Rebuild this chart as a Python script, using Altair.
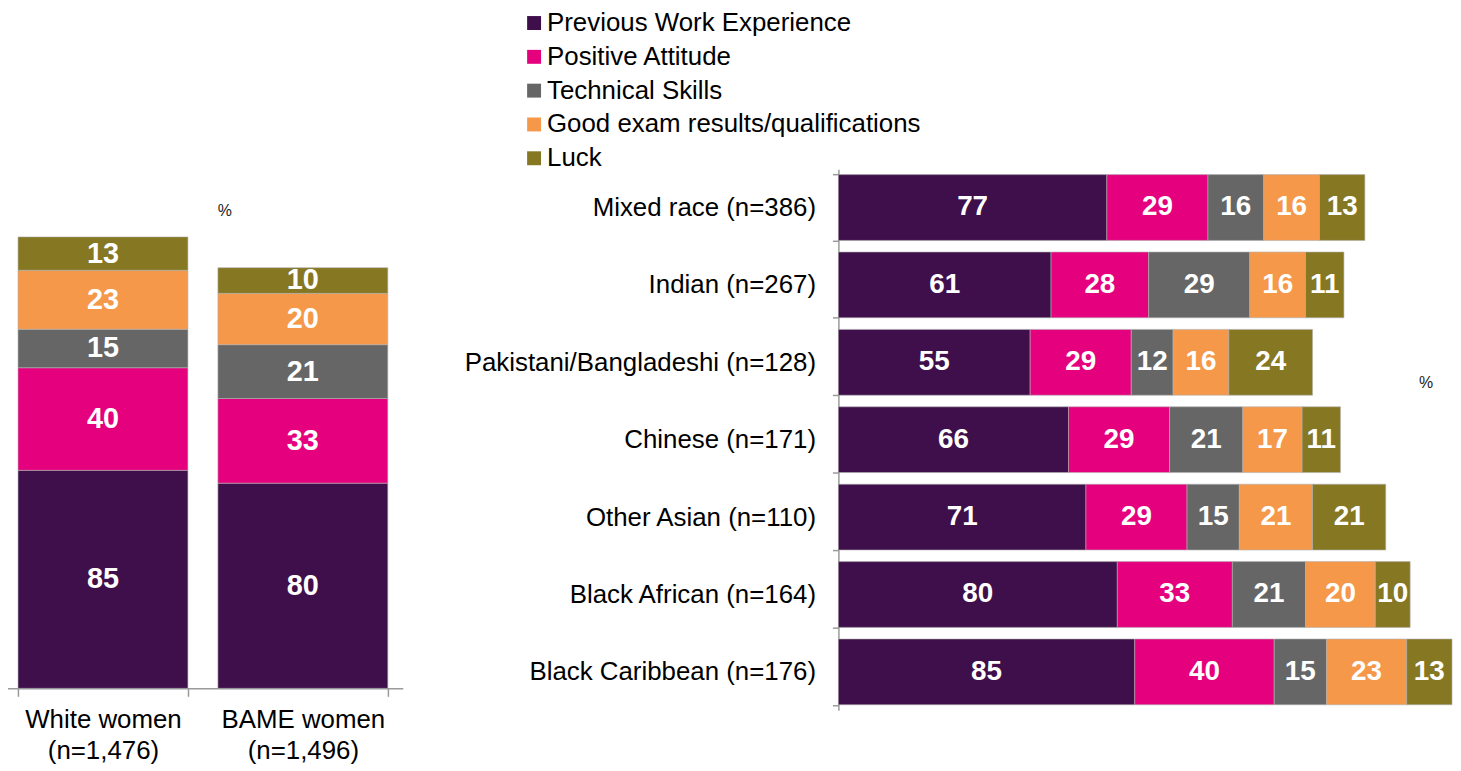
import altair as alt
import pandas as pd

factors = ["Previous Work Experience", "Positive Attitude", "Technical Skills",
           "Good exam results/qualifications", "Luck"]
colors = ["#3F0F4B", "#E5007D", "#666666", "#F6984A", "#867722"]

left_groups = ["White women (n=1,476)", "BAME women (n=1,496)"]
left_prev_work = [85, 80]
left_attitude = [40, 33]
left_technical = [15, 21]
left_exam = [23, 20]
left_luck = [13, 10]

right_groups = ["Mixed race (n=386)", "Indian (n=267)", "Pakistani/Bangladeshi (n=128)",
                "Chinese (n=171)", "Other Asian (n=110)", "Black African (n=164)",
                "Black Caribbean (n=176)"]
right_prev_work = [77, 61, 55, 66, 71, 80, 85]
right_attitude = [29, 28, 29, 29, 29, 33, 40]
right_technical = [16, 29, 12, 21, 15, 21, 15]
right_exam = [16, 16, 16, 17, 21, 20, 23]
right_luck = [13, 11, 24, 11, 21, 10, 13]


def build(groups, series):
    rows = []
    for gi, g in enumerate(groups):
        for fi, (f, vals) in enumerate(zip(factors, series)):
            rows.append({"group": g, "factor": f, "idx": fi, "value": vals[gi]})
    return pd.DataFrame(rows)


df_left = build(left_groups, [left_prev_work, left_attitude, left_technical, left_exam, left_luck])
df_right = build(right_groups, [right_prev_work, right_attitude, right_technical, right_exam, right_luck])

AX = "#9a9a9a"
FONT = "Liberation Sans"

# ---------------- left panel ----------------
base_l = alt.Chart(df_left).transform_stack(
    stack="value", groupby=["group"], sort=[alt.SortField("idx", order="ascending")], as_=["v0", "v1"]
).transform_calculate(mid="(datum.v0 + datum.v1) / 2")

xl = alt.X("group:N", sort=left_groups, title=None,
           scale=alt.Scale(paddingInner=0.15, paddingOuter=0.075),
           axis=alt.Axis(labelAngle=0, domainColor=AX, tickColor=AX, domainWidth=1.5, tickWidth=1.5,
                         tickSize=8, tickBand="extent", labelFontSize=26, labelColor="#000",
                         labelFont=FONT, labelPadding=10, labelLineHeight=32, labelLimit=400,
                         labelExpr="[slice(datum.label, 0, indexof(datum.label, ' (')), slice(datum.label, indexof(datum.label, ' (') + 1)]"))
yl_scale = alt.Scale(domain=[0, 202.4], nice=False, zero=True)

bars_l = base_l.mark_bar(stroke="#b0b0b0", strokeWidth=0.6).encode(
    x=xl,
    y=alt.Y("v0:Q", scale=yl_scale, axis=None),
    y2="v1:Q",
    color=alt.Color("factor:N", scale=alt.Scale(domain=factors, range=colors), legend=None),
)
text_l = base_l.mark_text(color="white", fontWeight="bold", fontSize=29, font=FONT, baseline="middle").encode(
    x=alt.X("group:N", sort=left_groups),
    y=alt.Y("mid:Q", scale=yl_scale),
    text="value:Q",
)
pct_l = alt.Chart(pd.DataFrame({"t": ["%"]})).mark_text(fontSize=16, color="#222", font=FONT).encode(
    x=alt.value(223), y=alt.value(42), text="t:N")

left = alt.layer(bars_l, text_l, pct_l).properties(width=402, height=522)

# ---------------- right panel ----------------
base_r = alt.Chart(df_right).transform_stack(
    stack="value", groupby=["group"], sort=[alt.SortField("idx", order="ascending")], as_=["v0", "v1"]
).transform_calculate(mid="(datum.v0 + datum.v1) / 2")

yr = alt.Y("group:N", sort=right_groups, title=None,
           scale=alt.Scale(paddingInner=0.15, paddingOuter=0.07),
           axis=alt.Axis(domainColor=AX, tickColor=AX, domainWidth=1.5, tickWidth=1.5, tickSize=6,
                         tickBand="extent", labelFontSize=26, labelColor="#000", labelFont=FONT,
                         labelPadding=17, labelLimit=500))
xr_scale = alt.Scale(domain=[0, 176], nice=False)

bars_r = base_r.mark_bar(stroke="#b0b0b0", strokeWidth=0.6).encode(
    y=yr,
    x=alt.X("v0:Q", scale=xr_scale, axis=None),
    x2="v1:Q",
    color=alt.Color("factor:N", scale=alt.Scale(domain=factors, range=colors),
                    legend=alt.Legend(orient="none", legendX=-319, legendY=-160, title=None,
                                      symbolType="square", symbolSize=196, symbolStrokeWidth=0,
                                      labelFontSize=26, labelFont=FONT, labelColor="#000",
                                      labelLimit=600, rowPadding=8, labelOffset=0, padding=0)),
)
text_r = base_r.mark_text(color="white", fontWeight="bold", fontSize=28, font=FONT, baseline="middle").encode(
    y=alt.Y("group:N", sort=right_groups),
    x=alt.X("mid:Q", scale=xr_scale),
    text="value:Q",
)
pct_r = alt.Chart(pd.DataFrame({"t": ["%"]})).mark_text(fontSize=16, color="#222", font=FONT).encode(
    x=alt.value(591), y=alt.value(215), text="t:N")

right = alt.layer(bars_r, text_r, pct_r).properties(width=617, height=544)

chart = alt.hconcat(left, right, spacing=61).resolve_scale(color="independent").resolve_legend(
    color="independent"
).configure(padding={"left": -5, "top": 0, "right": 0, "bottom": 0}, font=FONT).configure_view(stroke=None)

chart.save("out.html", embed_options={"renderer": "svg", "actions": False})
